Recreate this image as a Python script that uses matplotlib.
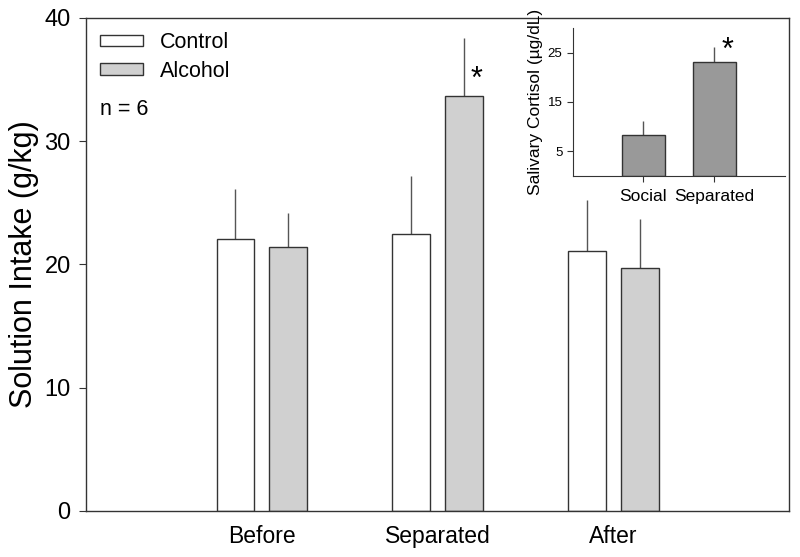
import numpy as np
import matplotlib.pyplot as plt

# main chart data
phases = ['Before', 'Separated', 'After']
control_mean = [22.1, 22.45, 21.1]
control_err = [4.0, 4.75, 4.1]
alcohol_mean = [21.45, 33.7, 19.7]
alcohol_err = [2.75, 4.65, 4.0]

# inset data
groups = ['Social', 'Separated']
cortisol_mean = [8.4, 23.0]
cortisol_err = [2.7, 3.1]

plt.rcParams['font.family'] = ['Liberation Sans', 'DejaVu Sans']

fig = plt.figure(figsize=(8, 5.57), dpi=100)
ax = fig.add_axes([0.1075, 0.0826, 0.8788, 0.8851])

x = np.arange(1, len(phases) + 1)
w = 0.215
edge = '#333333'
ax.bar(x - 0.15, control_mean, w, color='white', edgecolor=edge, linewidth=1.0,
       label='Control', zorder=2)
ax.bar(x + 0.15, alcohol_mean, w, color='#d0d0d0', edgecolor=edge, linewidth=1.0,
       label='Alcohol', zorder=2)
ax.errorbar(x - 0.15, control_mean, yerr=[np.zeros(3), control_err], fmt='none',
            ecolor='#555555', elinewidth=1.0, capsize=0, zorder=1)
ax.errorbar(x + 0.15, alcohol_mean, yerr=[np.zeros(3), alcohol_err], fmt='none',
            ecolor='#555555', elinewidth=1.0, capsize=0, zorder=1)

ax.set_xlim(0, 4)
ax.set_ylim(0, 40)
ax.set_yticks([0, 10, 20, 30, 40])
ax.set_xticks(x)
ax.set_xticklabels(phases, fontsize=16.5)
ax.tick_params(axis='x', length=0, pad=10)
ax.tick_params(axis='y', labelsize=17, length=5, direction='out', color=edge, pad=6)
ax.set_ylabel('Solution Intake (g/kg)', fontsize=22, labelpad=4)
for s in ax.spines.values():
    s.set_color(edge)
    s.set_linewidth(1.0)

# significance marker and sample size
ax.text(2.22, 35.0, '*', fontsize=22, ha='center', va='center')
ax.text(0.08, 32.6, 'n = 6', fontsize=15.5, ha='left', va='center')

ax.legend(loc='upper left', frameon=False, fontsize=15.5, handlelength=2.0,
          handleheight=0.45, handletextpad=0.8, labelspacing=0.35,
          borderaxespad=0.25, bbox_to_anchor=(0.0, 1.0))

# inset: salivary cortisol
ins = fig.add_axes([0.716, 0.684, 0.265, 0.266])
xi = np.arange(1, len(groups) + 1)
ins.bar(xi, cortisol_mean, 0.61, color='#999999', edgecolor=edge, linewidth=1.0, zorder=2)
ins.errorbar(xi, cortisol_mean, yerr=[np.zeros(2), cortisol_err], fmt='none',
             ecolor='#555555', elinewidth=1.0, capsize=0, zorder=1)
ins.set_xlim(0, 3)
ins.set_ylim(0, 30)
ins.set_yticks([5, 15, 25])
ins.set_xticks(xi)
ins.set_xticklabels(groups, fontsize=12.5)
ins.tick_params(axis='y', labelsize=9.5, length=4, color=edge)
ins.tick_params(axis='x', length=4, color=edge, pad=5)
ins.set_ylabel('Salivary Cortisol (\u00b5g/dL)', fontsize=12.5, labelpad=3)
ins.spines['top'].set_visible(False)
ins.spines['right'].set_visible(False)
for s in ['left', 'bottom']:
    ins.spines[s].set_color(edge)
ins.patch.set_alpha(0)
ins.text(2.19, 25.3, '*', fontsize=22, ha='center', va='center')

fig.savefig('out.png', dpi=100)
